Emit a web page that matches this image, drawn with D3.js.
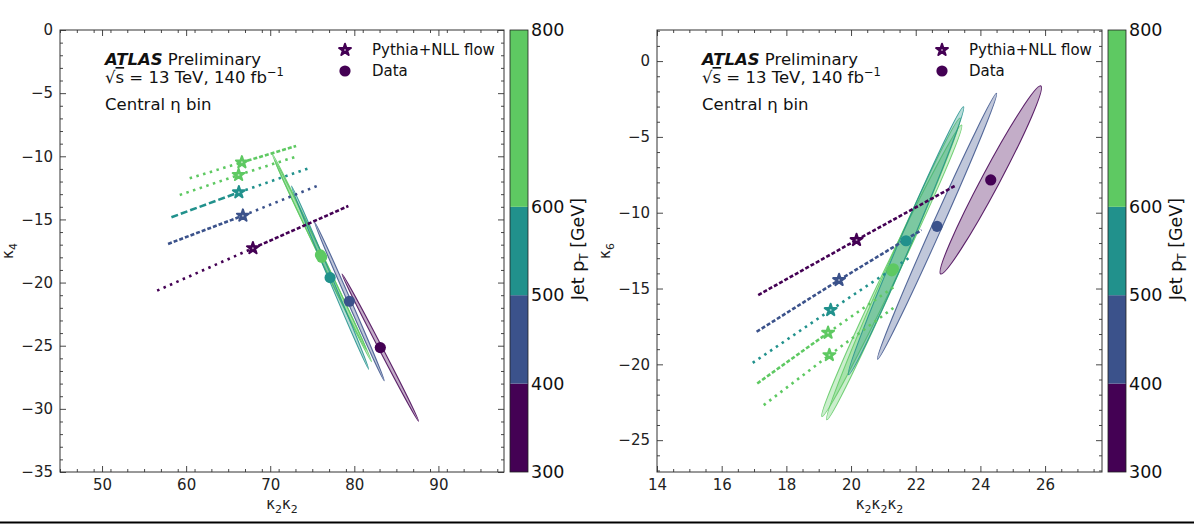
<!DOCTYPE html>
<html><head><meta charset="utf-8">
<script src="https://cdn.jsdelivr.net/npm/d3@7"></script>
<style>body{margin:0;background:#fff;} svg{display:block;font-family:"DejaVu Sans",sans-serif;}</style>
</head><body><svg id="c" width="1194" height="525"></svg>
<script>
// ---- data ----
const ptBins = ["300–400","400–500","500–600","600–800","800+"];
const binColorIndex = [0,1,2,3,3];
const cbBounds = [300,400,500,600,800];
const cbColors = ["#440154","#3b528b","#21918c","#5ec962"];
const cbTicks = [300,400,500,600,800];

// left panel: kappa2kappa2 vs kappa4
const k4SimX = [67.94,66.75,66.27,66.24,66.63];
const k4SimY = [-17.28,-14.70,-12.85,-11.48,-10.48];
const k4LineX0 = [56.55,57.85,58.25,59.24,60.42];
const k4LineY0 = [-20.64,-16.94,-14.83,-13.06,-11.74];
const k4LineX1 = [79.29,75.65,74.58,73.28,73.08];
const k4LineY1 = [-13.94,-12.33,-10.95,-9.98,-9.18];
const k4DataX = [83.09,79.41,77.12,76.12,75.97];
const k4DataY = [-25.15,-21.48,-19.61,-18.00,-17.81];
const k4TipX = [78.54,75.26,72.53,70.19,70.51];
const k4TipY = [-19.32,-15.18,-12.35,-9.74,-10.29];
const k4Ratio = [0.022,0.02,0.018,0.017,0.017];
const k4StyleL = ["dot","dash","longdash","dot","dot"];
const k4StyleR = ["dash","dot","dot","dot","dash"];
const k4XTicks = [50,60,70,80,90];
const k4YTicks = [-35,-30,-25,-20,-15,-10,-5,0];

// right panel: kappa2kappa2kappa2 vs kappa6
const k6SimX = [20.17,19.63,19.37,19.29,19.33];
const k6SimY = [-11.80,-14.44,-16.42,-17.92,-19.39];
const k6LineX0 = [17.13,17.08,16.96,17.10,17.30];
const k6LineY0 = [-15.43,-17.85,-19.90,-21.26,-22.69];
const k6LineX1 = [23.22,22.18,21.82,21.41,21.36];
const k6LineY1 = [-8.22,-11.14,-12.94,-14.77,-16.20];
const k6DataX = [24.32,22.66,21.70,21.26,21.31];
const k6DataY = [-7.84,-10.90,-11.85,-13.83,-13.70];
const k6TipX = [25.87,24.50,23.48,23.42,23.37];
const k6TipY = [-1.64,-2.13,-3.01,-4.22,-3.75];
const k6Ratio = [0.084,0.034,0.041,0.043,0.04];
const k6StyleL = ["dash","dash","dot","dash","dot"];
const k6StyleR = ["dash","dash","dot","dot","dot"];
const k6XTicks = [14,16,18,20,22,24,26];
const k6YTicks = [-25,-20,-15,-10,-5,0];

// ---- drawing ----
const svg = d3.select("#c");
const dash = {dot:"2.5,4.5", dash:"4,2", longdash:"7,3"};
const fmt = d3.format("d");

function drawStar(sel, cx, cy, c){
  sel.append("path").attr("d",d3.symbol(d3.symbolStar,44)()).attr("transform",`translate(${cx},${cy})`)
    .attr("fill",c).attr("stroke",c).attr("stroke-width",2).attr("stroke-linejoin","round");
  sel.append("circle").attr("cx",cx).attr("cy",cy).attr("r",1).attr("fill","#fff").attr("opacity",0.55);
}

function panel(o){
  const x = d3.scaleLinear().domain(o.xDom).range([o.L,o.R]);
  const y = d3.scaleLinear().domain(o.yDom).range([o.B,o.T]);
  const g = svg.append("g");
  const cid = "clip"+o.id;
  svg.append("clipPath").attr("id",cid).append("rect")
    .attr("x",o.L).attr("y",o.T).attr("width",o.R-o.L).attr("height",o.B-o.T);
  const d = g.append("g").attr("clip-path",`url(#${cid})`);
  const n = o.sx.length;
  const col = i => cbColors[binColorIndex[i]];
  // ellipses
  for(let i=n-1;i>=0;i--){
    const cx=x(o.dx[i]), cy=y(o.dy[i]), tx=x(o.tx[i]), ty=y(o.ty[i]);
    const a=Math.hypot(tx-cx,ty-cy), ang=Math.atan2(ty-cy,tx-cx)*180/Math.PI;
    d.append("ellipse").attr("transform",`translate(${cx},${cy}) rotate(${ang})`)
      .attr("rx",a).attr("ry",Math.max(1.6,a*o.ratio[i]))
      .attr("fill",col(i)).attr("fill-opacity",0.32)
      .attr("stroke",col(i)).attr("stroke-opacity",0.85).attr("stroke-width",1.1);
  }
  // lines
  for(let i=0;i<n;i++){
    d.append("line").attr("x1",x(o.lx0[i])).attr("y1",y(o.ly0[i])).attr("x2",x(o.sx[i])).attr("y2",y(o.sy[i]))
      .attr("stroke",col(i)).attr("stroke-width",2.6).attr("stroke-dasharray",dash[o.stL[i]]);
    d.append("line").attr("x1",x(o.sx[i])).attr("y1",y(o.sy[i])).attr("x2",x(o.lx1[i])).attr("y2",y(o.ly1[i]))
      .attr("stroke",col(i)).attr("stroke-width",2.6).attr("stroke-dasharray",dash[o.stR[i]]);
  }
  // data circles
  for(let i=n-1;i>=0;i--){
    d.append("circle").attr("cx",x(o.dx[i])).attr("cy",y(o.dy[i])).attr("r",5.6).attr("fill",col(i));
  }
  // sim stars
  for(let i=0;i<n;i++) drawStar(d, x(o.sx[i]), y(o.sy[i]), col(i));

  // axes
  const xMinor = d3.range(o.xDom[0], o.xDom[1]+1e-9, o.xMinorStep).filter(v=>!o.xTicks.some(t=>Math.abs(t-v)<1e-6));
  const yMinor = d3.range(Math.ceil(o.yDom[0]), o.yDom[1]+1e-9, o.yMinorStep).filter(v=>!o.yTicks.some(t=>Math.abs(t-v)<1e-6));
  const ax = (gen, tr, vals, size, lab) => {
    const a = g.append("g").attr("transform",tr).call(gen.tickValues(vals).tickSize(size).tickPadding(lab?7:0).tickFormat(lab?fmt:""));
    a.select(".domain").remove();
    a.selectAll("line").attr("stroke","#333").attr("stroke-width",0.9);
    a.selectAll("text").attr("font-size",15).attr("fill","#222").attr("font-family","DejaVu Sans");
    return a;
  };
  ax(d3.axisBottom(x),`translate(0,${o.B})`,o.xTicks,-6,true);
  ax(d3.axisBottom(x),`translate(0,${o.B})`,xMinor,-3,false);
  ax(d3.axisTop(x),`translate(0,${o.T})`,o.xTicks,-6,false);
  ax(d3.axisTop(x),`translate(0,${o.T})`,xMinor,-3,false);
  ax(d3.axisLeft(y),`translate(${o.L},0)`,o.yTicks,-6,true);
  ax(d3.axisLeft(y),`translate(${o.L},0)`,yMinor,-3,false);
  ax(d3.axisRight(y),`translate(${o.R},0)`,o.yTicks,-6,false);
  ax(d3.axisRight(y),`translate(${o.R},0)`,yMinor,-3,false);
  g.append("rect").attr("x",o.L).attr("y",o.T).attr("width",o.R-o.L).attr("height",o.B-o.T)
    .attr("fill","none").attr("stroke","#333").attr("stroke-width",1);

  // axis labels
  const xl = g.append("text").attr("x",(o.L+o.R)/2).attr("y",509).attr("text-anchor","middle").attr("font-size",15).attr("fill","#222");
  for(let k=0;k<o.xPow;k++){
    xl.append("tspan").attr("dy",k===0?0:-4).text("κ");
    xl.append("tspan").attr("font-size",11).attr("dy",4).text("2");
  }
  const yl = g.append("text").attr("transform",`translate(${o.L-47},${(o.T+o.B)/2}) rotate(-90)`).attr("text-anchor","middle").attr("font-size",15).attr("fill","#222");
  yl.append("tspan").text("κ"); yl.append("tspan").attr("font-size",11).attr("dy",4).text(o.yLabSub);

  // text
  const t1 = g.append("text").attr("x",o.L+45).attr("y",65).attr("font-size",16.5).attr("fill","#111");
  t1.append("tspan").attr("font-weight","bold").attr("font-style","italic").text("ATLAS");
  t1.append("tspan").text(" Preliminary");
  const t2 = g.append("text").attr("x",o.L+45).attr("y",83).attr("font-size",16.5).attr("fill","#111");
  t2.append("tspan").text("√");
  t2.append("tspan").attr("text-decoration","overline").text("s");
  t2.append("tspan").text(" =  13 TeV, 140 fb");
  t2.append("tspan").attr("font-size",11.5).attr("dy",-7).text("−1");
  g.append("text").attr("x",o.L+45).attr("y",110).attr("font-size",16.5).attr("fill","#111").text("Central η bin");

  // legend
  drawStar(g, o.legX, 50, cbColors[0]);
  g.append("circle").attr("cx",o.legX).attr("cy",71).attr("r",5.6).attr("fill",cbColors[0]);
  g.append("text").attr("x",o.legX+27).attr("y",55).attr("font-size",15).attr("fill","#111").text("Pythia+NLL flow");
  g.append("text").attr("x",o.legX+27).attr("y",76).attr("font-size",15).attr("fill","#111").text("Data");

  // colorbar
  const cy = d3.scaleLinear().domain([300,800]).range([o.B,o.T]);
  const cbW = 18;
  for(let k=0;k<cbColors.length;k++){
    g.append("rect").attr("x",o.cbX).attr("y",cy(cbBounds[k+1])).attr("width",cbW)
      .attr("height",cy(cbBounds[k])-cy(cbBounds[k+1])).attr("fill",cbColors[k]);
  }
  g.append("rect").attr("x",o.cbX).attr("y",o.T).attr("width",cbW).attr("height",o.B-o.T)
    .attr("fill","none").attr("stroke","#222").attr("stroke-width",0.8);
  const ca = g.append("g").attr("transform",`translate(${o.cbX+cbW},0)`)
    .call(d3.axisRight(cy).tickValues(cbTicks).tickSize(0).tickPadding(3).tickFormat(fmt));
  ca.select(".domain").remove();
  ca.selectAll("text").attr("font-size",17.5).attr("fill","#111").attr("font-family","DejaVu Sans");
  const cl = g.append("text").attr("transform",`translate(${o.cbX+cbW+56},${(o.T+o.B)/2-2}) rotate(-90)`)
    .attr("text-anchor","middle").attr("font-size",17.5).attr("fill","#111");
  cl.append("tspan").text("Jet p");
  cl.append("tspan").attr("font-size",12).attr("dy",4).text("T");
  cl.append("tspan").attr("dy",-4).text(" [GeV]");
}

panel({id:"a", L:60, R:504, T:30, B:472, xDom:[45,97.8], yDom:[-35,0],
  xTicks:k4XTicks, yTicks:k4YTicks, xMinorStep:2, yMinorStep:1, xPow:2, yLabSub:"4",
  sx:k4SimX, sy:k4SimY, lx0:k4LineX0, ly0:k4LineY0, lx1:k4LineX1, ly1:k4LineY1,
  dx:k4DataX, dy:k4DataY, tx:k4TipX, ty:k4TipY, ratio:k4Ratio, stL:k4StyleL, stR:k4StyleR,
  legX:345, cbX:510});
panel({id:"b", L:657, R:1102, T:30, B:472, xDom:[14,27.76], yDom:[-27.1,2.05],
  xTicks:k6XTicks, yTicks:k6YTicks, xMinorStep:0.5, yMinorStep:1, xPow:3, yLabSub:"6",
  sx:k6SimX, sy:k6SimY, lx0:k6LineX0, ly0:k6LineY0, lx1:k6LineX1, ly1:k6LineY1,
  dx:k6DataX, dy:k6DataY, tx:k6TipX, ty:k6TipY, ratio:k6Ratio, stL:k6StyleL, stR:k6StyleR,
  legX:942, cbX:1108});

svg.append("line").attr("x1",0).attr("x2",1194).attr("y1",522.5).attr("y2",522.5).attr("stroke","#000").attr("stroke-width",2);
</script></body></html>
